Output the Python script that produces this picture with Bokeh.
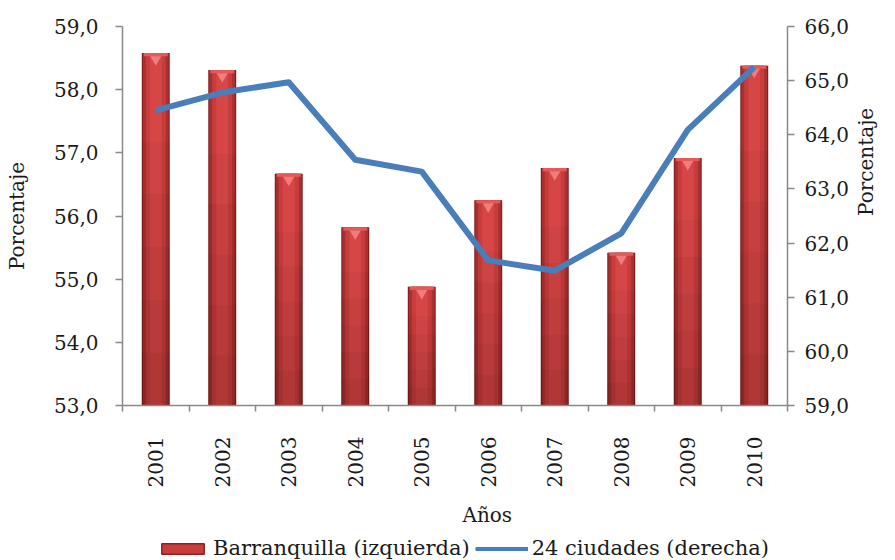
import math
from bokeh.plotting import figure
from bokeh.layouts import column
from bokeh.models import (Range1d, LinearAxis, FixedTicker, Legend, LegendItem,
                          ColumnDataSource, Title)
from bokeh.embed import file_html
from bokeh.resources import INLINE

years = ["2001", "2002", "2003", "2004", "2005", "2006", "2007", "2008", "2009", "2010"]
barranquilla = [58.58, 58.31, 56.67, 55.82, 54.88, 56.25, 56.76, 55.42, 56.92, 58.38]
ciudades = [64.45, 64.78, 64.97, 63.54, 63.32, 61.68, 61.49, 62.18, 64.09, 65.25]

left_ticks = [53, 54, 55, 56, 57, 58, 59]
left_tick_labels = ["53,0", "54,0", "55,0", "56,0", "57,0", "58,0", "59,0"]
right_ticks = [59, 60, 61, 62, 63, 64, 65, 66]
right_tick_labels = ["59,0", "60,0", "61,0", "62,0", "63,0", "64,0", "65,0", "66,0"]
series_names = ["Barranquilla (izquierda)", "24 ciudades (derecha)"]

FONT = "DejaVu Serif"
AXIS_COLOR = "#898989"
TEXT_COLOR = "#1a1a1a"
BAR_COLOR = "#c93c3c"
LINE_COLOR = "#4a7ebb"
NAN = float("nan")

left_min, left_max = 53, 59
right_min, right_max = 59, 66

x = [i + 0.5 for i in range(len(years))]
cap_bottom = [v - 0.05 for v in barranquilla]
cap_tri = [v - 0.1 for v in barranquilla]
src = ColumnDataSource(dict(x=x, bq=barranquilla, cd=ciudades,
                            capb=cap_bottom, capt=cap_tri))

p = figure(width=895, height=536, output_backend="svg", toolbar_location=None,
           x_range=Range1d(0, len(years)), y_range=Range1d(left_min, left_max),
           min_border_left=122, min_border_right=108, min_border_top=26,
           min_border_bottom=131)
p.xgrid.visible = False
p.ygrid.visible = False
p.outline_line_color = None
p.background_fill_color = "white"
p.border_fill_color = "white"

# bars: layered to mimic cylinder shading
layers = [(0.42, "#7a1c1c"), (0.39, "#a83030"), (0.30, BAR_COLOR), (0.18, "#d64646")]
for w, c in layers:
    p.vbar(x="x", top="bq", bottom=left_min, width=w, source=src,
           fill_color=c, line_color=None)

# vertical darkening toward the base of each bar
for f in [0.15, 0.3, 0.45, 0.6, 0.75]:
    tops = [left_min + f * (v - left_min) for v in barranquilla]
    p.vbar(x=x, top=tops, bottom=left_min, width=0.42, fill_color="black",
           fill_alpha=0.035, line_color=None)

# cap highlight
p.vbar(x="x", top="bq", bottom="capb", width=0.36,
       source=src, fill_color="#e25a5a", line_color=None)
p.scatter(x="x", y="capt", source=src, marker="inverted_triangle",
          size=11, fill_color="#f07c7c", line_color=None)

# line on right axis
p.extra_y_ranges = {"right": Range1d(right_min, right_max)}
p.line(x="x", y="cd", source=src, y_range_name="right",
       line_color=LINE_COLOR, line_width=6, line_join="round")

# x axis
xa = p.xaxis[0]
xa.ticker = FixedTicker(ticks=x, minor_ticks=list(range(len(years) + 1)))
xa.major_label_overrides = {xi: y for xi, y in zip(x, years)}
xa.major_label_orientation = math.pi / 2
xa.major_tick_line_color = None
xa.major_tick_out = 0
xa.major_tick_in = 0
xa.minor_tick_out = 6
xa.minor_tick_in = 0
xa.minor_tick_line_color = AXIS_COLOR
xa.minor_tick_line_width = 1.5
xa.major_label_standoff = 25

# x axis title (as a title so it can sit off-centre like the reference)
xt = Title(text="Años", align="left", offset=340, standoff=20,
           text_font=FONT, text_font_size="20px", text_font_style="normal",
           text_color=TEXT_COLOR)
p.add_layout(xt, "below")

# left axis
ya = p.yaxis[0]
ya.ticker = FixedTicker(ticks=left_ticks, minor_ticks=[])
ya.major_label_overrides = {t: l for t, l in zip(left_ticks, left_tick_labels)}
ya.axis_label = "Porcentaje"
ya.axis_label_standoff = 22
ya.major_label_standoff = 17

# right axis
ra = LinearAxis(y_range_name="right")
ra.ticker = FixedTicker(ticks=right_ticks, minor_ticks=[])
ra.major_label_overrides = {t: l for t, l in zip(right_ticks, right_tick_labels)}
ra.axis_label = "Porcentaje"
ra.axis_label_standoff = 14
ra.major_label_standoff = 10
ra.axis_label_orientation = math.pi / 2
p.add_layout(ra, "right")

for ax in [xa, ya, ra]:
    ax.axis_line_color = AXIS_COLOR
    ax.axis_line_width = 1.5
    ax.major_label_text_font = FONT
    ax.major_label_text_font_size = "20px"
    ax.major_label_text_color = TEXT_COLOR
    ax.axis_label_text_font = FONT
    ax.axis_label_text_font_size = "20px"
    ax.axis_label_text_font_style = "normal"
    ax.axis_label_text_color = TEXT_COLOR
for ax in [ya, ra]:
    ax.major_tick_line_color = AXIS_COLOR
    ax.major_tick_line_width = 1.5
    ax.major_tick_out = 7
    ax.major_tick_in = 0

# legend strip (separate small figure so the legend is not clipped)
lf = figure(width=895, height=24, output_backend="svg", toolbar_location=None,
            x_range=Range1d(0, 1), y_range=Range1d(0, 1),
            x_axis_type=None, y_axis_type=None, min_border=0)
lf.outline_line_color = None
lf.xgrid.visible = False
lf.ygrid.visible = False
bar_proxy = lf.vbar(x=[NAN], top=[NAN], width=0.5, fill_color=BAR_COLOR,
                    line_color="#8a2020", line_width=1.5)
line_proxy = lf.line(x=[NAN], y=[NAN], line_color=LINE_COLOR, line_width=4)

legend = Legend(items=[
    LegendItem(label=series_names[0], renderers=[bar_proxy]),
    LegendItem(label=series_names[1], renderers=[line_proxy]),
], orientation="horizontal", location=(34, 0))
legend.label_text_font = FONT
legend.label_text_font_size = "21px"
legend.label_text_color = TEXT_COLOR
legend.glyph_width = 53
legend.glyph_height = 13
legend.label_height = 20
legend.label_standoff = 4
legend.spacing = 5
legend.padding = 1
legend.margin = 0
legend.border_line_color = None
legend.background_fill_alpha = 0
lf.add_layout(legend, "center")

open("out.html", "w").write(file_html(column(p, lf, spacing=0), INLINE))
